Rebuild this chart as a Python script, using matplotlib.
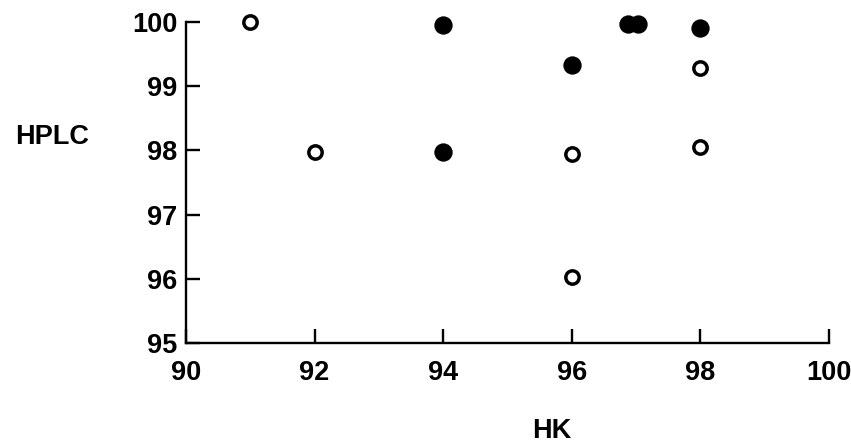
import matplotlib
matplotlib.use("Agg")
import matplotlib.pyplot as plt

# Data
open_hk = [91, 92, 96, 96, 98, 98]
open_hplc = [100.0, 97.97, 97.95, 96.03, 99.28, 98.05]
filled_hk = [94, 94, 96, 96.87, 97.03, 98]
filled_hplc = [99.95, 97.97, 99.33, 99.97, 99.97, 99.9]
x_ticks = [90, 92, 94, 96, 98, 100]
y_ticks = [95, 96, 97, 98, 99, 100]

plt.rcParams['font.family'] = ['Liberation Sans', 'DejaVu Sans']
plt.rcParams['font.weight'] = 'bold'

fig = plt.figure(figsize=(8.51, 4.43), dpi=100)
ax = fig.add_axes([186/851, 1-343/443, (829-186)/851, (343-22)/443])

ax.plot(filled_hk, filled_hplc, 'o', color='black', markersize=13.2,
        markeredgewidth=0, clip_on=False, zorder=3)
ax.plot(open_hk, open_hplc, 'o', markerfacecolor='white', markeredgecolor='black',
        markersize=9.6, markeredgewidth=2.5, clip_on=False, zorder=3)

ax.set_xlim(90, 100)
ax.set_ylim(95, 100)
ax.set_xticks(x_ticks)
ax.set_yticks(y_ticks)
ax.set_xticklabels([str(v) for v in x_ticks], fontsize=19.5, fontweight='bold')
ax.set_yticklabels([str(v) for v in y_ticks], fontsize=19.5, fontweight='bold')
for s in ['top', 'right']:
    ax.spines[s].set_visible(False)
for s in ['left', 'bottom']:
    ax.spines[s].set_linewidth(1.7)
ax.tick_params(axis='both', direction='in', length=10, width=1.7, colors='black')
ax.tick_params(axis='x', pad=12)
ax.tick_params(axis='y', pad=6)

fig.text(552/851, 1-431/443, 'HK', ha='center', va='center', fontsize=19.5, fontweight='bold')
fig.text(15/851, 1-137/443, 'HPLC', ha='left', va='center', fontsize=19.5, fontweight='bold')

fig.savefig('out.png', dpi=100)
